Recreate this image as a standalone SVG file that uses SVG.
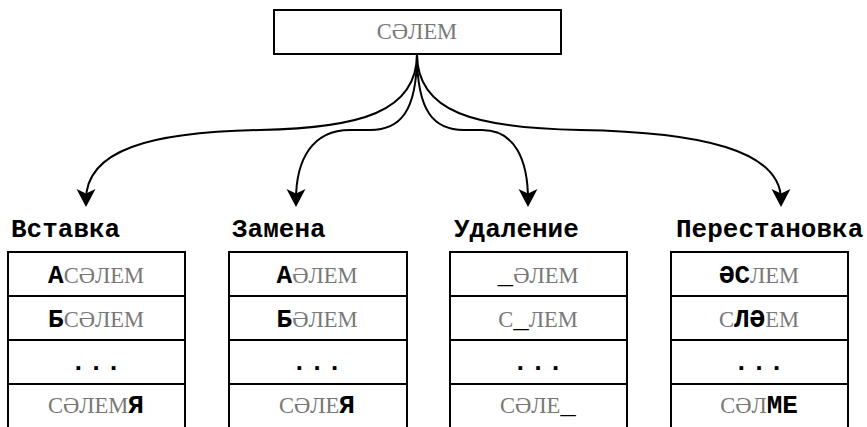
<svg xmlns="http://www.w3.org/2000/svg" width="867" height="427" viewBox="0 0 867 427">
  <defs>
    <marker id="arrow" markerUnits="userSpaceOnUse" markerWidth="20" markerHeight="20" refX="11" refY="10" orient="auto">
      <path d="M18,10 L0,0.5 L4.5,10 L0,19.5 Z" fill="#000"/>
    </marker>
  </defs>
  <style>
    .box { fill: #fff; stroke: #000; stroke-width: 2; }
    .edge { fill: none; stroke: #000; stroke-width: 2; marker-end: url(#arrow); }
    .word { font-family: "Liberation Serif", "DejaVu Serif", serif; font-size: 22.5px; fill: #787878; text-anchor: middle; }
    .b { font-family: "Liberation Mono", "DejaVu Sans Mono", monospace; font-weight: bold; font-size: 26px; fill: #000; }
    .head { font-family: "Liberation Mono", "DejaVu Sans Mono", monospace; font-weight: bold; font-size: 26px; fill: #000; }
    .dots { font-family: "Liberation Mono", "DejaVu Sans Mono", monospace; font-weight: bold; font-size: 26px; fill: #000; text-anchor: middle; letter-spacing: 2px; }
  </style>

  <!-- connectors -->
  <g id="connectors">
    <path class="edge" d="M417,54 C417,112 360,128 260,130 C150,132 86,150 86,200"/>
    <path class="edge" d="M417,54 C417,112 400,130 370,130 L350,130 C312,130 296,160 296,200"/>
    <path class="edge" d="M417,54 C417,112 434,130 464,130 L482,130 C515,130 528,160 528,200"/>
    <path class="edge" d="M417,54 C417,112 474,128 580,130 C700,132 781,150 781,200"/>
  </g>

  <!-- source word -->
  <g id="source">
    <rect class="box" x="274" y="10" width="287" height="44"/>
    <text class="word" x="417" y="39">СӘЛЕМ</text>
  </g>

  <!-- insertion -->
  <g id="insert">
    <text class="head" x="11" y="237">Вставка</text>
    <rect class="box" x="8" y="252" width="177" height="44"/>
    <rect class="box" x="8" y="296" width="177" height="44"/>
    <rect class="box" x="8" y="340" width="177" height="44"/>
    <rect class="box" x="8" y="384" width="177" height="46"/>
    <text class="word" x="96" y="283"><tspan class="b">А</tspan>СӘЛЕМ</text>
    <text class="word" x="96" y="327"><tspan class="b">Б</tspan>СӘЛЕМ</text>
    <text class="dots" x="97" y="370">...</text>
    <text class="word" x="96" y="413">СӘЛЕМ<tspan class="b">Я</tspan></text>
  </g>

  <!-- substitution -->
  <g id="replace">
    <text class="head" x="232" y="237">Замена</text>
    <rect class="box" x="229" y="252" width="178" height="44"/>
    <rect class="box" x="229" y="296" width="178" height="44"/>
    <rect class="box" x="229" y="340" width="178" height="44"/>
    <rect class="box" x="229" y="384" width="178" height="46"/>
    <text class="word" x="317" y="283"><tspan class="b">А</tspan>ӘЛЕМ</text>
    <text class="word" x="317" y="327"><tspan class="b">Б</tspan>ӘЛЕМ</text>
    <text class="dots" x="318" y="370">...</text>
    <text class="word" x="317" y="413">СӘЛЕ<tspan class="b">Я</tspan></text>
  </g>

  <!-- deletion -->
  <g id="delete">
    <text class="head" x="454" y="237">Удаление</text>
    <rect class="box" x="450" y="252" width="177" height="44"/>
    <rect class="box" x="450" y="296" width="177" height="44"/>
    <rect class="box" x="450" y="340" width="177" height="44"/>
    <rect class="box" x="450" y="384" width="177" height="46"/>
    <text class="word" x="538" y="283"><tspan class="b">_</tspan>ӘЛЕМ</text>
    <text class="word" x="538" y="327">С<tspan class="b">_</tspan>ЛЕМ</text>
    <text class="dots" x="539" y="370">...</text>
    <text class="word" x="538" y="413">СӘЛЕ<tspan class="b">_</tspan></text>
  </g>

  <!-- transposition -->
  <g id="swap">
    <text class="head" x="676" y="237">Перестановка</text>
    <rect class="box" x="671" y="252" width="177" height="44"/>
    <rect class="box" x="671" y="296" width="177" height="44"/>
    <rect class="box" x="671" y="340" width="177" height="44"/>
    <rect class="box" x="671" y="384" width="177" height="46"/>
    <text class="word" x="759" y="283"><tspan class="b">ӘС</tspan>ЛЕМ</text>
    <text class="word" x="759" y="327">С<tspan class="b">ЛӘ</tspan>ЕМ</text>
    <text class="dots" x="760" y="370">...</text>
    <text class="word" x="759" y="413">СӘЛ<tspan class="b">МЕ</tspan></text>
  </g>
</svg>
